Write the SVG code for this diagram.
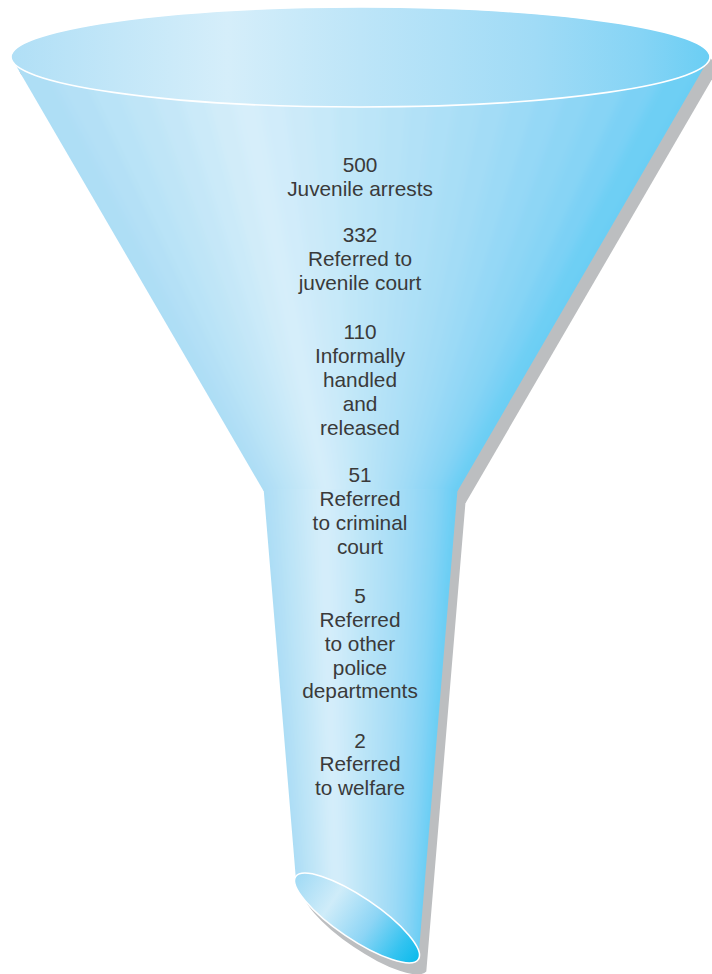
<svg xmlns="http://www.w3.org/2000/svg" xmlns:xlink="http://www.w3.org/1999/xlink" width="712" height="974" viewBox="0 0 712 974">
  <defs>
    <style>
      .lbl { font-family: "Liberation Sans", Arial, Helvetica, sans-serif; font-size: 20.8px; fill: #3a3a3a; text-anchor: middle; }
      .rim { stroke: #ffffff; stroke-width: 1.6; }
      .shade { fill: #bcbec0; }
    </style>
    <!-- rim and mouth fills -->
    <linearGradient id="rimGrad" x1="0" y1="0" x2="1" y2="0">
      <stop offset="0" stop-color="#b0dff6"/>
      <stop offset="0.31" stop-color="#d5eefa"/>
      <stop offset="0.5" stop-color="#bde5f8"/>
      <stop offset="0.75" stop-color="#a0dbf6"/>
      <stop offset="0.9" stop-color="#86d4f5"/>
      <stop offset="1" stop-color="#6aceF4"/>
    </linearGradient>
    <linearGradient id="mouthGrad" x1="0" y1="0" x2="1" y2="0">
      <stop offset="0" stop-color="#a0daf5"/>
      <stop offset="0.3" stop-color="#cfecf9"/>
      <stop offset="0.6" stop-color="#8dd5f5"/>
      <stop offset="0.85" stop-color="#34c3f0"/>
      <stop offset="1" stop-color="#0cbbec"/>
    </linearGradient>
    <!-- thin wedges fanning out from each apex, used to shade the cone and stem -->
    <path id="coneRay" d="M360.5,657.5 L336.9,-242.5 L384.1,-242.5 Z"/>
    <path id="stemRay" d="M360.6,1673 L354.9,373 L366.3,373 Z"/>
    <clipPath id="coneClip">
      <polygon points="11,57 710,57 457.6,491 263.6,491"/>
    </clipPath>
    <clipPath id="stemClip">
      <path d="M263.6,489 L295.7,876.6 A74,21 34 0 0 418.3,959.4 L457.6,489 Z"/>
    </clipPath>
    <filter id="soften" x="-10%" y="-10%" width="120%" height="120%">
      <feGaussianBlur stdDeviation="4"/>
    </filter>
  </defs>

  <rect width="712" height="974" fill="#ffffff"/>

  <g id="funnel">
    <!-- drop shadow -->
    <g id="funnel-shadow" class="shade" transform="translate(8,12)">
      <ellipse cx="360.5" cy="57" rx="349.5" ry="50"/>
      <polygon points="11,57 710,57 457.6,491 263.6,491"/>
      <path d="M263.6,489 L295.7,876.6 A74,21 34 0 0 418.3,959.4 L457.6,489 Z"/>
    </g>

    <!-- cone -->
    <g id="funnel-cone" clip-path="url(#coneClip)">
      <g filter="url(#soften)">
        <use xlink:href="#coneRay" fill="#abddf5" transform="rotate(-36.5 360.5 657.5)"/>
        <use xlink:href="#coneRay" fill="#abddf5" transform="rotate(-33.97 360.5 657.5)"/>
        <use xlink:href="#coneRay" fill="#abddf5" transform="rotate(-31.46 360.5 657.5)"/>
        <use xlink:href="#coneRay" fill="#aedef5" transform="rotate(-28.94 360.5 657.5)"/>
        <use xlink:href="#coneRay" fill="#b4e0f6" transform="rotate(-26.42 360.5 657.5)"/>
        <use xlink:href="#coneRay" fill="#b9e3f7" transform="rotate(-23.91 360.5 657.5)"/>
        <use xlink:href="#coneRay" fill="#bfe5f7" transform="rotate(-21.39 360.5 657.5)"/>
        <use xlink:href="#coneRay" fill="#c5e7f8" transform="rotate(-18.87 360.5 657.5)"/>
        <use xlink:href="#coneRay" fill="#cbeaf9" transform="rotate(-16.36 360.5 657.5)"/>
        <use xlink:href="#coneRay" fill="#d1ecf9" transform="rotate(-13.84 360.5 657.5)"/>
        <use xlink:href="#coneRay" fill="#d6eefa" transform="rotate(-11.32 360.5 657.5)"/>
        <use xlink:href="#coneRay" fill="#d1ecfa" transform="rotate(-8.81 360.5 657.5)"/>
        <use xlink:href="#coneRay" fill="#cceaf9" transform="rotate(-6.29 360.5 657.5)"/>
        <use xlink:href="#coneRay" fill="#c7e9f9" transform="rotate(-3.77 360.5 657.5)"/>
        <use xlink:href="#coneRay" fill="#c1e7f8" transform="rotate(-1.26 360.5 657.5)"/>
        <use xlink:href="#coneRay" fill="#bce5f8" transform="rotate(1.26 360.5 657.5)"/>
        <use xlink:href="#coneRay" fill="#b7e3f7" transform="rotate(3.77 360.5 657.5)"/>
        <use xlink:href="#coneRay" fill="#b2e1f7" transform="rotate(6.29 360.5 657.5)"/>
        <use xlink:href="#coneRay" fill="#ade0f7" transform="rotate(8.81 360.5 657.5)"/>
        <use xlink:href="#coneRay" fill="#a8def6" transform="rotate(11.32 360.5 657.5)"/>
        <use xlink:href="#coneRay" fill="#a3dcf6" transform="rotate(13.84 360.5 657.5)"/>
        <use xlink:href="#coneRay" fill="#9cdaf6" transform="rotate(16.36 360.5 657.5)"/>
        <use xlink:href="#coneRay" fill="#95d8f6" transform="rotate(18.87 360.5 657.5)"/>
        <use xlink:href="#coneRay" fill="#8ed6f5" transform="rotate(21.39 360.5 657.5)"/>
        <use xlink:href="#coneRay" fill="#87d4f5" transform="rotate(23.91 360.5 657.5)"/>
        <use xlink:href="#coneRay" fill="#7bd1f5" transform="rotate(26.42 360.5 657.5)"/>
        <use xlink:href="#coneRay" fill="#6ecff4" transform="rotate(28.94 360.5 657.5)"/>
        <use xlink:href="#coneRay" fill="#68cdf4" transform="rotate(31.46 360.5 657.5)"/>
        <use xlink:href="#coneRay" fill="#68cdf4" transform="rotate(33.97 360.5 657.5)"/>
        <use xlink:href="#coneRay" fill="#68cdf4" transform="rotate(36.5 360.5 657.5)"/>
      </g>
    </g>

    <!-- stem -->
    <g id="funnel-stem" clip-path="url(#stemClip)">
      <g filter="url(#soften)">
        <use xlink:href="#stemRay" fill="#a8dcf5" transform="rotate(-5.67 360.6 1673)"/>
        <use xlink:href="#stemRay" fill="#a8dcf5" transform="rotate(-5.28 360.6 1673)"/>
        <use xlink:href="#stemRay" fill="#a8dcf5" transform="rotate(-4.89 360.6 1673)"/>
        <use xlink:href="#stemRay" fill="#aedef5" transform="rotate(-4.495 360.6 1673)"/>
        <use xlink:href="#stemRay" fill="#b4e0f6" transform="rotate(-4.104 360.6 1673)"/>
        <use xlink:href="#stemRay" fill="#b9e3f7" transform="rotate(-3.713 360.6 1673)"/>
        <use xlink:href="#stemRay" fill="#bfe5f7" transform="rotate(-3.322 360.6 1673)"/>
        <use xlink:href="#stemRay" fill="#c5e7f8" transform="rotate(-2.931 360.6 1673)"/>
        <use xlink:href="#stemRay" fill="#cbeaf9" transform="rotate(-2.540 360.6 1673)"/>
        <use xlink:href="#stemRay" fill="#d1ecf9" transform="rotate(-2.149 360.6 1673)"/>
        <use xlink:href="#stemRay" fill="#d6eefa" transform="rotate(-1.758 360.6 1673)"/>
        <use xlink:href="#stemRay" fill="#d1ecfa" transform="rotate(-1.367 360.6 1673)"/>
        <use xlink:href="#stemRay" fill="#cceaf9" transform="rotate(-0.976 360.6 1673)"/>
        <use xlink:href="#stemRay" fill="#c7e9f9" transform="rotate(-0.585 360.6 1673)"/>
        <use xlink:href="#stemRay" fill="#c1e7f8" transform="rotate(-0.194 360.6 1673)"/>
        <use xlink:href="#stemRay" fill="#bce5f8" transform="rotate(0.197 360.6 1673)"/>
        <use xlink:href="#stemRay" fill="#b7e3f7" transform="rotate(0.588 360.6 1673)"/>
        <use xlink:href="#stemRay" fill="#b2e1f7" transform="rotate(0.979 360.6 1673)"/>
        <use xlink:href="#stemRay" fill="#ade0f7" transform="rotate(1.370 360.6 1673)"/>
        <use xlink:href="#stemRay" fill="#a8def6" transform="rotate(1.761 360.6 1673)"/>
        <use xlink:href="#stemRay" fill="#a3dcf6" transform="rotate(2.152 360.6 1673)"/>
        <use xlink:href="#stemRay" fill="#9cdaf6" transform="rotate(2.543 360.6 1673)"/>
        <use xlink:href="#stemRay" fill="#95d8f6" transform="rotate(2.934 360.6 1673)"/>
        <use xlink:href="#stemRay" fill="#8ed6f5" transform="rotate(3.325 360.6 1673)"/>
        <use xlink:href="#stemRay" fill="#87d4f5" transform="rotate(3.716 360.6 1673)"/>
        <use xlink:href="#stemRay" fill="#7bd1f5" transform="rotate(4.107 360.6 1673)"/>
        <use xlink:href="#stemRay" fill="#6ecff4" transform="rotate(4.498 360.6 1673)"/>
        <use xlink:href="#stemRay" fill="#68cdf4" transform="rotate(4.889 360.6 1673)"/>
        <use xlink:href="#stemRay" fill="#68cdf4" transform="rotate(5.28 360.6 1673)"/>
        <use xlink:href="#stemRay" fill="#68cdf4" transform="rotate(5.67 360.6 1673)"/>
      </g>
    </g>

    <!-- top rim -->
    <ellipse id="funnel-rim" class="rim" cx="360.5" cy="57" rx="349.5" ry="50" fill="url(#rimGrad)"/>

    <!-- spout opening -->
    <ellipse id="funnel-mouth" class="rim" cx="357" cy="918" rx="74" ry="21" transform="rotate(34 357 918)" fill="url(#mouthGrad)" stroke-width="1.4"/>
  </g>

  <!-- stages, top to bottom -->
  <g id="stage-arrests" class="lbl">
    <text x="360" y="171.5">500</text>
    <text x="360" y="195.5">Juvenile arrests</text>
  </g>
  <g id="stage-juvenile-court" class="lbl">
    <text x="360" y="242">332</text>
    <text x="360" y="266">Referred to</text>
    <text x="360" y="290">juvenile court</text>
  </g>
  <g id="stage-released" class="lbl">
    <text x="360" y="339">110</text>
    <text x="360" y="363">Informally</text>
    <text x="360" y="387">handled</text>
    <text x="360" y="411">and</text>
    <text x="360" y="435">released</text>
  </g>
  <g id="stage-criminal-court" class="lbl">
    <text x="360" y="482">51</text>
    <text x="360" y="506">Referred</text>
    <text x="360" y="530">to criminal</text>
    <text x="360" y="554">court</text>
  </g>
  <g id="stage-other-police" class="lbl">
    <text x="360" y="603">5</text>
    <text x="360" y="627">Referred</text>
    <text x="360" y="651">to other</text>
    <text x="360" y="675">police</text>
    <text x="360" y="698">departments</text>
  </g>
  <g id="stage-welfare" class="lbl">
    <text x="360" y="748">2</text>
    <text x="360" y="771">Referred</text>
    <text x="360" y="795">to welfare</text>
  </g>
</svg>
